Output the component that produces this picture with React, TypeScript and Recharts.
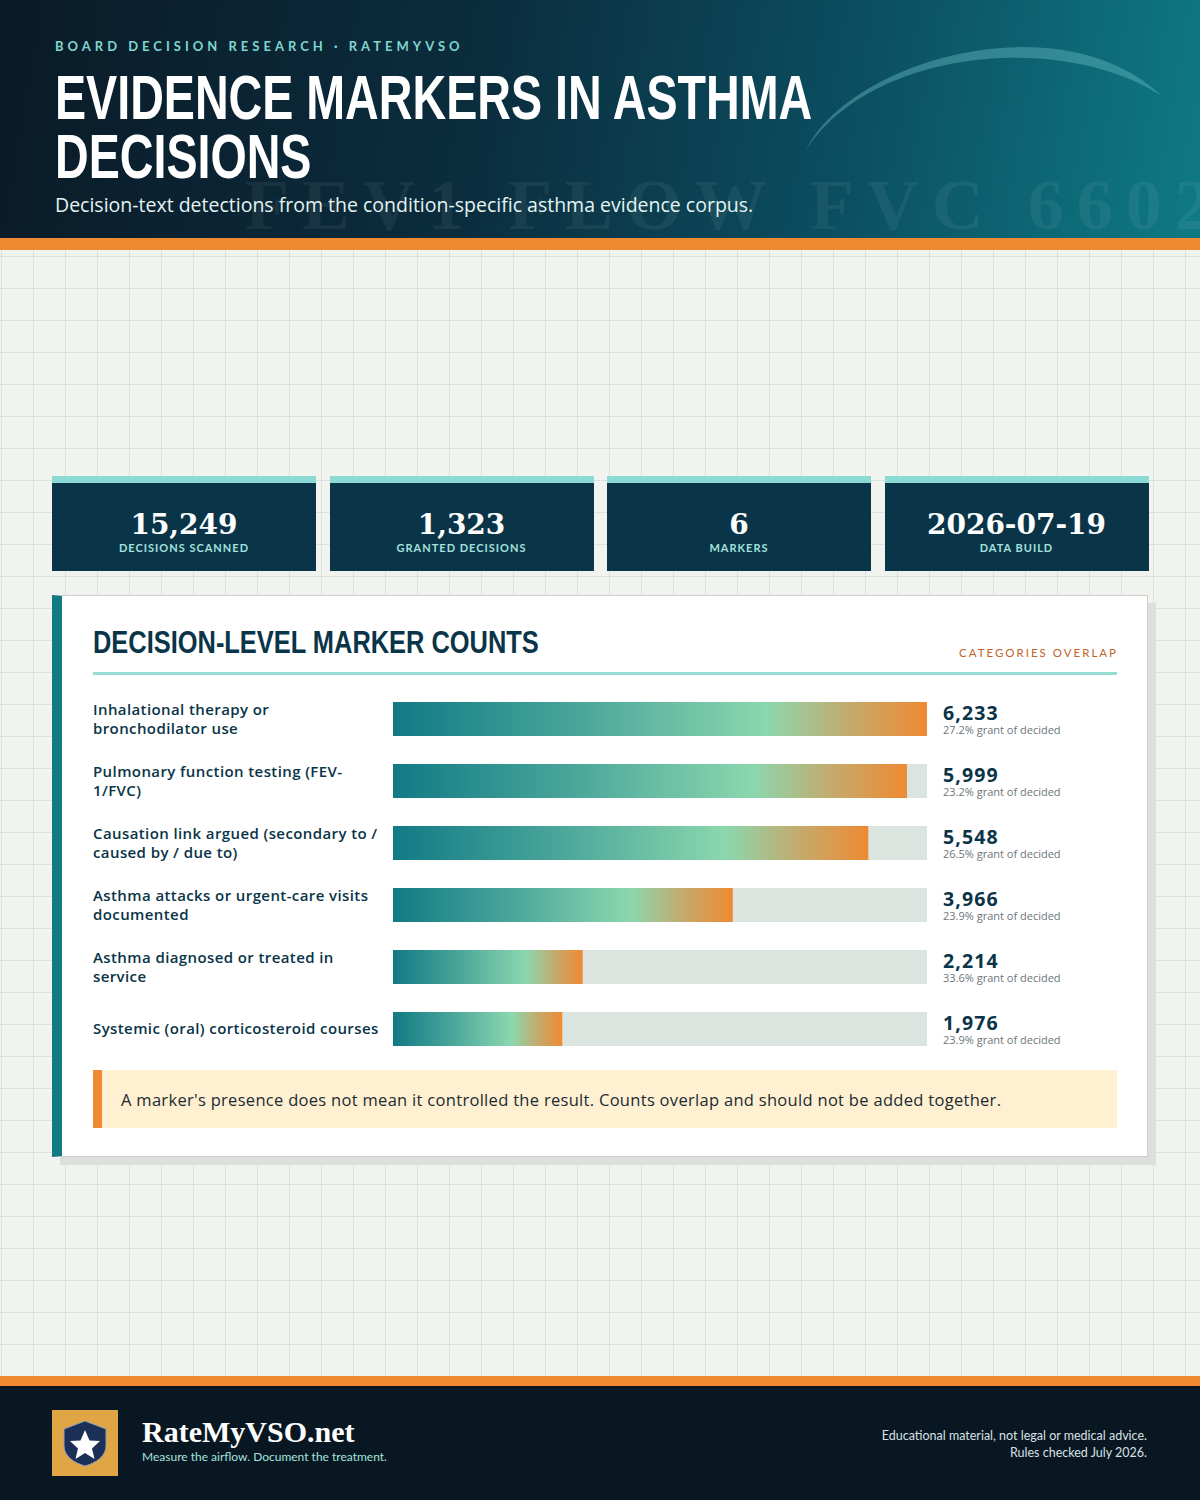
import { BarChart, Bar, XAxis, YAxis } from 'recharts';

// marker categories, counts and grant rates
const markers = [
  'Inhalational therapy or\nbronchodilator use',
  'Pulmonary function testing (FEV-\n1/FVC)',
  'Causation link argued (secondary to /\ncaused by / due to)',
  'Asthma attacks or urgent-care visits\ndocumented',
  'Asthma diagnosed or treated in\nservice',
  'Systemic (oral) corticosteroid courses',
];
const counts = [6233, 5999, 5548, 3966, 2214, 1976];
const grantRates = [27.2, 23.2, 26.5, 23.9, 33.6, 23.9];

const statValues = ['15,249', '1,323', '6', '2026-07-19'];
const statLabels = ['DECISIONS SCANNED', 'GRANTED DECISIONS', 'MARKERS', 'DATA BUILD'];

const NAVY = '#0a3447';
const TEAL = '#127a85';
const ORANGE = '#ef8a33';
const SANS = 'Lato, "Open Sans", sans-serif';
const BODY = '"Open Sans", Lato, sans-serif';
const HEAVY = '"Liberation Sans", Arial, sans-serif';
const SERIF = '"DejaVu Serif", "Liberation Serif", serif';

const LABEL_W = 300;
const VALUE_W = 190;

const chartData = markers.map((name, i) => ({ name, count: counts[i], rate: grantRates[i] }));

function LeftTick(props: any) {
  const { x, y, payload } = props;
  const lines = String(payload.value).split('\n');
  const left = x - LABEL_W;
  return (
    <g>
      {lines.map((ln, i) => (
        <text
          key={i}
          x={left}
          y={y + 5 + (i - (lines.length - 1) / 2) * 19}
          fill={NAVY}
          fontFamily={BODY}
          fontWeight={600}
          fontSize={15}
          letterSpacing={0.4}
        >
          {ln}
        </text>
      ))}
    </g>
  );
}

function RightTick(props: any) {
  const { x, y, index } = props;
  const d = chartData[index];
  if (!d) return null;
  return (
    <g>
      <text x={x + 16} y={y + 1} fill={NAVY} fontFamily={BODY} fontWeight={700} fontSize={19.5} letterSpacing={1.1}>
        {d.count.toLocaleString('en-US')}
      </text>
      <text x={x + 16} y={y + 15} fill="#6b767a" fontFamily={BODY} fontSize={11}>
        {`${d.rate.toFixed(1)}% grant of decided`}
      </text>
    </g>
  );
}

function MarkerChart() {
  return (
    <BarChart
      width={1024}
      height={372}
      data={chartData}
      layout="vertical"
      margin={{ top: 0, right: 0, bottom: 0, left: 0 }}
    >
      <defs>
        <linearGradient id="markerGrad" x1="0" y1="0" x2="1" y2="0">
          <stop offset="0%" stopColor="#127a85" />
          <stop offset="35%" stopColor="#4aa69a" />
          <stop offset="70%" stopColor="#8bd7ae" />
          <stop offset="86%" stopColor="#c6a96a" />
          <stop offset="100%" stopColor="#ef8a33" />
        </linearGradient>
      </defs>
      <XAxis type="number" domain={[0, 6233]} hide />
      <YAxis
        yAxisId="left"
        type="category"
        dataKey="name"
        width={LABEL_W}
        axisLine={false}
        tickLine={false}
        tickSize={0}
        tickMargin={0}
        interval={0}
        tick={(p: any) => <LeftTick {...p} />}
      />
      <YAxis
        yAxisId="right"
        orientation="right"
        type="category"
        dataKey="name"
        width={VALUE_W}
        axisLine={false}
        tickLine={false}
        tickSize={0}
        tickMargin={0}
        interval={0}
        tick={(p: any) => <RightTick {...p} />}
      />
      <Bar
        yAxisId="left"
        dataKey="count"
        barSize={34}
        fill="url(#markerGrad)"
        background={{ fill: '#dbe4df' }}
        isAnimationActive={false}
      />
    </BarChart>
  );
}

export default function App() {
  return (
    <div
      style={{
        position: 'absolute',
        left: 0,
        top: 0,
        width: 1200,
        height: 1500,
        overflow: 'hidden',
        background: '#f1f3ee',
        fontFamily: SANS,
      }}
    >
      {/* grid paper */}
      <div
        style={{
          position: 'absolute',
          left: 0,
          top: 250,
          width: 1200,
          height: 1126,
          backgroundImage:
            'linear-gradient(to right, rgba(190,208,202,0.45) 1px, transparent 1px), linear-gradient(to bottom, rgba(190,208,202,0.45) 1px, transparent 1px)',
          backgroundSize: '32px 32px',
          backgroundPosition: '1px 6px',
        }}
      />

      {/* header */}
      <div
        style={{
          position: 'absolute',
          left: 0,
          top: 0,
          width: 1200,
          height: 238,
          overflow: 'hidden',
          background: 'linear-gradient(100deg, #0a1a27 0%, #0b2d3e 40%, #0b4e60 70%, #0f7a84 100%)',
        }}
      >
        <svg width={1200} height={238} style={{ position: 'absolute', left: 0, top: 0 }}>
          <path
            d="M 806 150 C 850 60, 1060 0, 1162 96 C 1060 30, 870 50, 806 150 Z"
            fill="rgba(100,185,190,0.45)"
          />
          <text
            x={245}
            y={229}
            fill="rgba(255,255,255,0.06)"
            fontFamily='"Liberation Serif", serif'
            fontWeight={700}
            fontSize={72}
            letterSpacing={13}
          >
            FEV1 FLOW FVC 6602
          </text>
        </svg>
        <div
          style={{
            position: 'absolute',
            left: 55,
            top: 40,
            fontSize: 13,
            lineHeight: '13px',
            fontWeight: 700,
            letterSpacing: 4,
            color: '#7fd6cf',
          }}
        >
          BOARD DECISION RESEARCH · RATEMYVSO
        </div>
        <div
          style={{
            position: 'absolute',
            left: 55,
            top: 68,
            whiteSpace: 'nowrap',
            fontFamily: HEAVY,
            fontWeight: 700,
            fontSize: 63,
            lineHeight: '59px',
            color: '#ffffff',
            transform: 'scaleX(0.74)',
            transformOrigin: 'left top',
          }}
        >
          EVIDENCE MARKERS IN ASTHMA
          <br />
          DECISIONS
        </div>
        <div
          style={{
            position: 'absolute',
            left: 55,
            top: 195,
            fontFamily: BODY,
            fontSize: 19.5,
            lineHeight: '20px',
            color: '#e4f3f1',
          }}
        >
          Decision-text detections from the condition-specific asthma evidence corpus.
        </div>
      </div>
      <div style={{ position: 'absolute', left: 0, top: 238, width: 1200, height: 12, background: ORANGE }} />

      {/* stat cards */}
      {statValues.map((v, i) => (
        <div
          key={i}
          style={{
            position: 'absolute',
            left: 52 + i * 277.5,
            top: 476,
            width: 264,
            height: 95,
            background: NAVY,
            borderTop: '7px solid #8cdad4',
            boxSizing: 'border-box',
          }}
        >
          <div
            style={{
              position: 'absolute',
              left: 0,
              width: 264,
              top: 28,
              textAlign: 'center',
              fontFamily: SERIF,
              fontWeight: 700,
              fontSize: 28,
              lineHeight: '28px',
              color: '#ffffff',
            }}
          >
            {v}
          </div>
          <div
            style={{
              position: 'absolute',
              left: 0,
              width: 264,
              top: 59,
              textAlign: 'center',
              fontSize: 11,
              lineHeight: '11px',
              fontWeight: 700,
              letterSpacing: 1,
              color: '#a3e2dd',
            }}
          >
            {statLabels[i]}
          </div>
        </div>
      ))}

      {/* main card */}
      <div
        style={{
          position: 'absolute',
          left: 52,
          top: 595,
          width: 1096,
          height: 562,
          background: '#ffffff',
          border: '1px solid #c9cfcb',
          borderLeft: `10px solid ${TEAL}`,
          boxSizing: 'border-box',
          boxShadow: '8px 8px 0 #dcdfdb',
        }}
      />
      <div
        style={{
          position: 'absolute',
          left: 93,
          top: 627,
          whiteSpace: 'nowrap',
          fontFamily: HEAVY,
          fontWeight: 700,
          fontSize: 31,
          lineHeight: '31px',
          color: NAVY,
          transform: 'scaleX(0.82)',
          transformOrigin: 'left top',
        }}
      >
        DECISION-LEVEL MARKER COUNTS
      </div>
      <div
        style={{
          position: 'absolute',
          right: 1200 - 1118,
          top: 647,
          fontSize: 11.5,
          lineHeight: '12px',
          letterSpacing: 2,
          color: '#c0652a',
        }}
      >
        CATEGORIES OVERLAP
      </div>
      <div style={{ position: 'absolute', left: 93, top: 672, width: 1024, height: 3, background: '#97dcd5' }} />

      <div style={{ position: 'absolute', left: 93, top: 688 }}>
        <MarkerChart />
      </div>

      <div
        style={{
          position: 'absolute',
          left: 93,
          top: 1070,
          width: 1024,
          height: 58,
          background: '#fff0d1',
          borderLeft: `9px solid ${ORANGE}`,
          boxSizing: 'border-box',
          display: 'flex',
          alignItems: 'center',
          paddingLeft: 19,
          fontFamily: BODY,
          fontSize: 16.5,
          letterSpacing: 0.3,
          color: '#1a2b33',
        }}
      >
        A marker's presence does not mean it controlled the result. Counts overlap and should not be added together.
      </div>

      {/* footer */}
      <div style={{ position: 'absolute', left: 0, top: 1376, width: 1200, height: 10, background: ORANGE }} />
      <div style={{ position: 'absolute', left: 0, top: 1386, width: 1200, height: 114, background: '#081722' }} />
      <div style={{ position: 'absolute', left: 52, top: 1410, width: 66, height: 66, background: '#e0a544' }}>
        <svg width={66} height={66}>
          <path
            d="M 33 11 L 54 19 L 54 36 C 54 46, 44 53, 33 56 C 22 53, 12 46, 12 36 L 12 19 Z"
            fill="#1c2f57"
            stroke="#8ea0b8"
            strokeWidth={1}
          />
          <path
            d="M 33 20 L 37.5 30.5 L 48 31 L 40 38.5 L 42.5 49 L 33 43 L 23.5 49 L 26 38.5 L 18 31 L 28.5 30.5 Z"
            fill="#ffffff"
          />
        </svg>
      </div>
      <div
        style={{
          position: 'absolute',
          left: 142,
          top: 1417,
          fontFamily: '"Liberation Serif", serif',
          fontWeight: 700,
          fontSize: 30,
          lineHeight: '30px',
          color: '#ffffff',
        }}
      >
        RateMyVSO.net
      </div>
      <div
        style={{ position: 'absolute', left: 142, top: 1451, fontSize: 12, lineHeight: '12px', color: '#a6e3de' }}
      >
        Measure the airflow. Document the treatment.
      </div>
      <div
        style={{
          position: 'absolute',
          right: 1200 - 1147,
          top: 1427,
          fontSize: 12.5,
          lineHeight: '17px',
          color: '#d9e0e3',
          textAlign: 'right',
        }}
      >
        Educational material, not legal or medical advice.
        <br />
        Rules checked July 2026.
      </div>
    </div>
  );
}
